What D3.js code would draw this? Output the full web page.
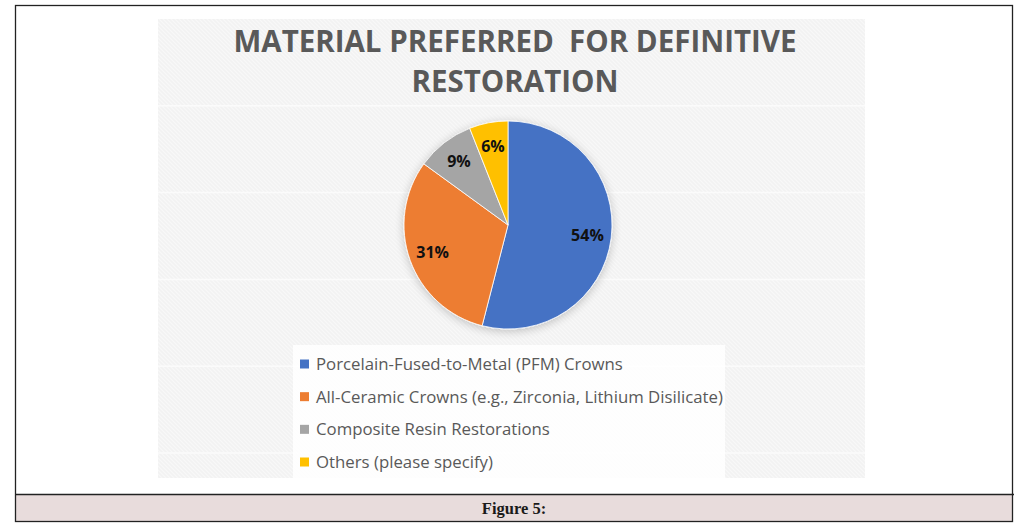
<!DOCTYPE html>
<html>
<head>
<meta charset="utf-8">
<script src="https://cdn.jsdelivr.net/npm/d3@7"></script>
<style>
  html, body { margin: 0; padding: 0; background: #fff; }
  svg { display: block; }
</style>
</head>
<body>
<script>
// data
var categories = [
    'Porcelain-Fused-to-Metal (PFM) Crowns',
    'All-Ceramic Crowns (e.g., Zirconia, Lithium Disilicate)',
    'Composite Resin Restorations',
    'Others (please specify)'
];
var shares = [54, 31, 9, 6];
var colors = ['#4472C4', '#ED7D31', '#A5A5A5', '#FFC000'];
var titleLines = ['MATERIAL PREFERRED  FOR DEFINITIVE', 'RESTORATION'];
var caption = 'Figure 5:';

var W = 1033, H = 530;
var svg = d3.select('body').append('svg').attr('width', W).attr('height', H);
var defs = svg.append('defs');

// excel-ish woven texture for the plot background
var pat = defs.append('pattern')
    .attr('id', 'weave').attr('patternUnits', 'userSpaceOnUse')
    .attr('width', 4).attr('height', 4);
pat.append('rect').attr('width', 4).attr('height', 4).attr('fill', '#f2f2f2');
pat.append('path').attr('d', 'M0,0 L4,4 M-1,3 L1,5 M3,-1 L5,1')
    .attr('stroke', '#f9f9f9').attr('stroke-width', 1.2);

var shadow = defs.append('filter').attr('id', 'soft')
    .attr('x', '-30%').attr('y', '-30%').attr('width', '160%').attr('height', '160%');
shadow.append('feGaussianBlur').attr('in', 'SourceAlpha').attr('stdDeviation', 5);
shadow.append('feOffset').attr('dx', 0).attr('dy', 2).attr('result', 'b');
shadow.append('feComponentTransfer').append('feFuncA').attr('type', 'linear').attr('slope', 0.22);
var merge = shadow.append('feMerge');
merge.append('feMergeNode');
merge.append('feMergeNode').attr('in', 'SourceGraphic');

// chart area
var area = {x: 158, y: 19, w: 707, h: 459};
svg.append('rect')
    .attr('x', area.x).attr('y', area.y).attr('width', area.w).attr('height', area.h)
    .attr('fill', 'url(#weave)');
svg.selectAll('line.band')
    .data(d3.range(1, 6))
    .enter().append('line')
    .attr('class', 'band')
    .attr('x1', area.x).attr('x2', area.x + area.w)
    .attr('y1', function (d) { return area.y + d * 86.8; })
    .attr('y2', function (d) { return area.y + d * 86.8; })
    .attr('stroke', '#fbfbfb').attr('stroke-width', 1.5);

// title
svg.append('text')
    .attr('x', 515).attr('y', 52)
    .attr('text-anchor', 'middle')
    .style('font-family', '"Open Sans", sans-serif')
    .style('font-weight', 700).style('font-size', '29.5px')
    .attr('fill', '#595959')
    .selectAll('tspan').data(titleLines).enter().append('tspan')
    .attr('x', 515).attr('dy', function (d, i) { return i ? 40 : 0; })
    .style('white-space', 'pre')
    .text(function (d) { return d; });

// pie
var cx = 508, cy = 225, r = 104;
var pie = d3.pie().sort(null).value(function (d) { return d; });
var arc = d3.arc().innerRadius(0).outerRadius(r);
var labelArc = d3.arc().innerRadius(r * 0.77).outerRadius(r * 0.77);
var arcs = pie(shares);

var gPie = svg.append('g').attr('transform', 'translate(' + cx + ',' + cy + ')');
gPie.append('g').attr('filter', 'url(#soft)')
    .selectAll('path').data(arcs).enter().append('path')
    .attr('d', arc)
    .attr('fill', function (d, i) { return colors[i]; })
    .attr('stroke', '#ffffff').attr('stroke-width', 0.8);

gPie.selectAll('text.lbl').data(arcs).enter().append('text')
    .attr('class', 'lbl')
    .attr('transform', function (d) { return 'translate(' + labelArc.centroid(d) + ')'; })
    .attr('text-anchor', 'middle').attr('dy', '0.36em')
    .style('font-family', '"Open Sans", sans-serif')
    .style('font-weight', 700).style('font-size', '16px')
    .attr('fill', '#111')
    .text(function (d) { return d.data + '%'; });

// legend
var leg = {x: 293, y: 345, w: 432, h: 133};
svg.append('rect')
    .attr('x', leg.x).attr('y', leg.y).attr('width', leg.w).attr('height', leg.h)
    .attr('fill', '#ffffff').attr('fill-opacity', 0.85);
var yLeg = d3.scalePoint().domain(categories).range([364, 462]);
var items = svg.selectAll('g.item').data(categories).enter().append('g')
    .attr('class', 'item')
    .attr('transform', function (d) { return 'translate(300,' + yLeg(d) + ')'; });
items.append('rect')
    .attr('x', 0).attr('y', -4.5).attr('width', 9).attr('height', 9)
    .attr('fill', function (d, i) { return colors[i]; });
items.append('text')
    .attr('x', 16).attr('dy', '0.36em')
    .style('font-family', '"Open Sans", sans-serif')
    .style('font-size', '16.8px')
    .attr('fill', '#595959')
    .text(function (d) { return d; });

// frame and caption bar
svg.append('rect')
    .attr('x', 15.5).attr('y', 494.5).attr('width', 997).attr('height', 27)
    .attr('fill', '#e8dcdc');
svg.append('rect')
    .attr('x', 15.5).attr('y', 5.5).attr('width', 997).attr('height', 516)
    .attr('fill', 'none').attr('stroke', '#222').attr('stroke-width', 1.3);
svg.append('line')
    .attr('x1', 15).attr('x2', 1014).attr('y1', 494.5).attr('y2', 494.5)
    .attr('stroke', '#222').attr('stroke-width', 1.3);
svg.append('text')
    .attr('x', 514).attr('y', 514)
    .attr('text-anchor', 'middle')
    .style('font-family', '"Liberation Serif", serif')
    .style('font-weight', 700).style('font-size', '16.5px')
    .attr('fill', '#1a1a1a')
    .text(caption);
</script>
</body>
</html>
